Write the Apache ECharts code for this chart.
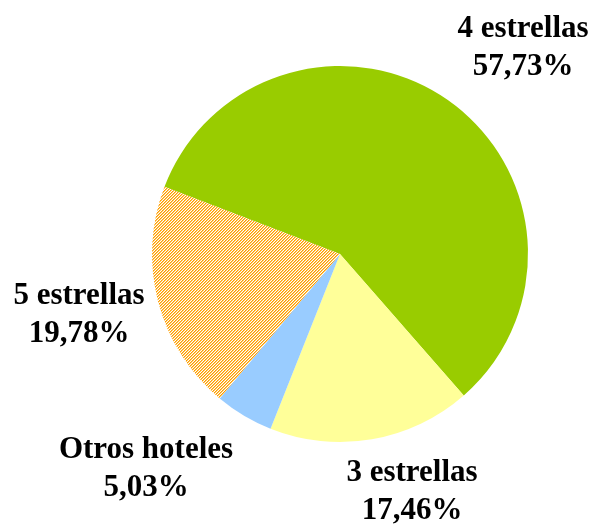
<!DOCTYPE html>
<html>
<head>
<meta charset="utf-8">
<script src="https://cdn.jsdelivr.net/npm/echarts@6/dist/echarts.min.js"></script>
<style>
  html, body { margin: 0; padding: 0; background: #fff; }
  #chart { width: 593px; height: 527px; }
</style>
</head>
<body>
<div id="chart"></div>
<script>
// datos (orden horario empezando por 4 estrellas)
var categorias = ['4 estrellas', '3 estrellas', 'Otros hoteles', '5 estrellas'];
var porcentajes = [57.73, 17.46, 5.03, 19.78];

// posiciones de las etiquetas
var etiquetaPos = [[523, 48], [412, 492], [146, 469], [79, 315]];

// trama rayada naranja para 5 estrellas
function trama() {
    var c = document.createElement('canvas');
    c.width = 3; c.height = 3;
    var ctx = c.getContext('2d');
    ctx.fillStyle = '#ffffff';
    ctx.fillRect(0, 0, 3, 3);
    for (var y = 0; y < 3; y++) {
        for (var x = 0; x < 3; x++) {
            var k = (x + y) % 3;
            if (k == 0) { ctx.fillStyle = '#ff9900'; ctx.fillRect(x, y, 1, 1); }
            if (k == 1) { ctx.fillStyle = '#ffcc66'; ctx.fillRect(x, y, 1, 1); }
        }
    }
    return c;
}

var colores = ['#99cc00', '#ffff99', '#99ccff', { image: trama(), repeat: 'repeat' }];

var datos = categorias.map(function (n, i) {
    return { name: n, value: porcentajes[i], itemStyle: { color: colores[i] } };
});

var myChart = echarts.init(document.getElementById('chart'));
var option = {
    backgroundColor: '#fff',
    animation: false,
    series: [{
        type: 'pie',
        center: [340, 254],
        radius: 188,
        startAngle: 159,
        clockwise: true,
        data: datos,
        label: {
            show: true,
            position: 'outside',
            alignTo: 'none',
            overflow: 'none',
            color: '#000',
            fontFamily: '"Liberation Serif", "Times New Roman", serif',
            fontWeight: 'bold',
            fontSize: 31,
            lineHeight: 38,
            align: 'center',
            formatter: function (p) {
                return p.name + '\n' + p.value.toFixed(2).replace('.', ',') + '%';
            }
        },
        labelLine: { show: false },
        labelLayout: function (p) {
            var pos = etiquetaPos[p.dataIndex];
            return { x: pos[0], y: pos[1], align: 'center', verticalAlign: 'middle' };
        },
        emphasis: { disabled: true }
    }]
};
myChart.setOption(option);
</script>
</body>
</html>
